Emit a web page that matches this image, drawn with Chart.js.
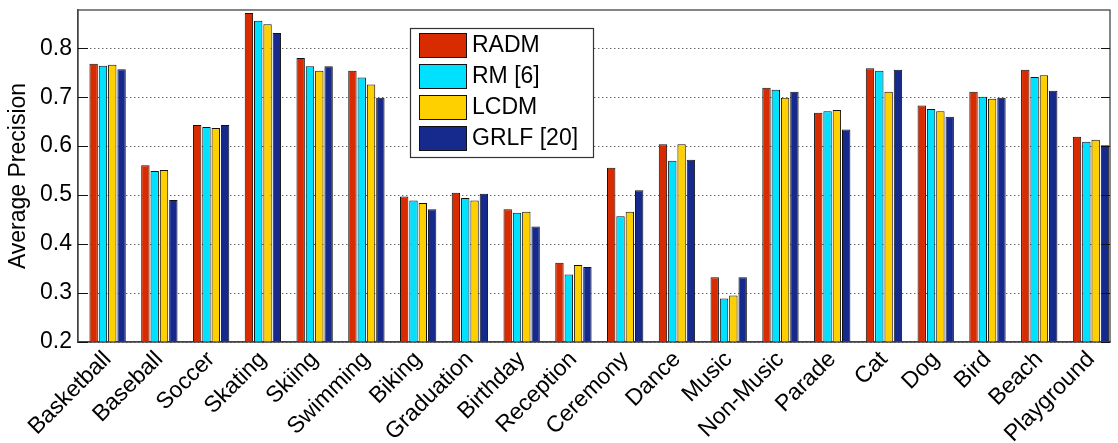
<!DOCTYPE html>
<html>
<head>
<meta charset="utf-8">
<script src="https://cdn.jsdelivr.net/npm/chart.js@4.4.1/dist/chart.umd.min.js"></script>
<style>
  html, body { margin: 0; padding: 0; background: #ffffff; }
  #wrap { width: 1118px; height: 443px; }
</style>
</head>
<body>
<div id="wrap"><canvas id="c" width="1118" height="443"></canvas></div>
<script>
const categories = ["Basketball","Baseball","Soccer","Skating","Skiing","Swimming","Biking","Graduation","Birthday","Reception","Ceremony","Dance","Music","Non-Music","Parade","Cat","Dog","Bird","Beach","Playground"];
const seriesNames = ["RADM","RM [6]","LCDM","GRLF [20]"];
const radm = [0.768,0.561,0.643,0.872,0.780,0.754,0.497,0.505,0.471,0.362,0.556,0.604,0.332,0.719,0.668,0.759,0.683,0.711,0.756,0.619];
const rm   = [0.764,0.549,0.639,0.856,0.763,0.740,0.489,0.494,0.464,0.338,0.457,0.570,0.289,0.715,0.671,0.754,0.676,0.701,0.741,0.609];
const lcdm = [0.766,0.551,0.637,0.849,0.754,0.726,0.484,0.489,0.466,0.357,0.466,0.604,0.295,0.699,0.674,0.711,0.671,0.697,0.745,0.613];
const grlf = [0.757,0.490,0.643,0.831,0.763,0.699,0.471,0.503,0.436,0.353,0.510,0.572,0.332,0.711,0.634,0.756,0.660,0.699,0.713,0.602];
const yTicks = [0.2,0.3,0.4,0.5,0.6,0.7,0.8];
const colors = ["#d92b00","#00e1ff","#ffd000","#16298c"];

const FONT = "'Liberation Sans', Arial, Helvetica, sans-serif";
const allSeries = [radm, rm, lcdm, grlf];

const datasets = allSeries.map((arr, k) => ({
  label: seriesNames[k],
  data: arr.map((v, i) => ({x: i, y: v})),
  backgroundColor: colors[k],
  borderColor: "#111111",
  borderWidth: 1,
  borderSkipped: false,
  categoryPercentage: 0.72,
  barPercentage: 0.9
}));

const framePlugin = {
  id: "frame",
  afterDraw(chart) {
    const ctx = chart.ctx;
    const a = chart.chartArea;
    const ys = chart.scales.y;
    ctx.save();
    ctx.strokeStyle = "#444444";
    ctx.lineWidth = 1.3;
    ctx.strokeRect(a.left, a.top, a.right - a.left, a.bottom - a.top);
    ctx.strokeStyle = "#111111";
    ctx.lineWidth = 1.2;
    yTicks.forEach(v => {
      const y = Math.round(ys.getPixelForValue(v)) + 0.5;
      ctx.beginPath();
      ctx.moveTo(a.left, y); ctx.lineTo(a.left + 10, y);
      ctx.moveTo(a.right, y); ctx.lineTo(a.right - 9, y);
      ctx.stroke();
    });
    const lx = a.left + 332, ly = a.top + 18, lw = 183, lh = 129;
    ctx.fillStyle = "#ffffff";
    ctx.fillRect(lx, ly, lw, lh);
    ctx.strokeStyle = "#333333";
    ctx.lineWidth = 1.2;
    ctx.strokeRect(lx + 0.5, ly + 0.5, lw, lh);
    ctx.font = "23px " + FONT;
    ctx.textBaseline = "middle";
    ctx.textAlign = "left";
    chart.data.datasets.forEach((ds, i) => {
      const sy = ly + 5 + i * 31;
      ctx.fillStyle = ds.backgroundColor;
      ctx.fillRect(lx + 9, sy, 47, 24);
      ctx.strokeStyle = "#111111";
      ctx.lineWidth = 1;
      ctx.strokeRect(lx + 9.5, sy + 0.5, 47, 24);
      ctx.fillStyle = "#000000";
      ctx.fillText(ds.label, lx + 62, sy + 13);
    });
    ctx.restore();
  }
};

new Chart(document.getElementById("c"), {
  type: "bar",
  data: { datasets },
  plugins: [framePlugin],
  options: {
    responsive: false,
    animation: false,
    devicePixelRatio: 1,
    layout: { padding: { left: 0, top: 10, right: 8, bottom: 0 } },
    plugins: { legend: { display: false }, tooltip: { enabled: false } },
    scales: {
      x: {
        type: "linear",
        min: -0.572,
        max: 19.367,
        offset: false,
        grid: { display: false, drawTicks: false },
        border: { display: true, color: "#444444", width: 1.3 },
        afterBuildTicks(scale) { scale.ticks = categories.map((c, i) => ({ value: i })); },
        afterFit(scale) { scale.height = 101; scale.paddingLeft = 0; scale.paddingRight = 0; },
        ticks: {
          autoSkip: false,
          minRotation: 45,
          maxRotation: 45,
          padding: 4,
          color: "#000000",
          font: { family: FONT, size: 23 },
          callback: (v) => categories[v]
        }
      },
      y: {
        min: 0.2,
        max: 0.878,
        afterBuildTicks(scale) { scale.ticks = yTicks.map(v => ({ value: v })); },
        afterFit(scale) { scale.width = 78; scale.paddingTop = 0; scale.paddingBottom = 0; },
        grid: { display: true, drawTicks: false, color: "#222222", lineWidth: 1 },
        border: { display: true, color: "#444444", width: 1.3, dash: [1, 3] },
        ticks: {
          padding: 6,
          color: "#000000",
          font: { family: FONT, size: 23 },
          callback: (v) => v.toFixed(1)
        },
        title: {
          display: true,
          text: "Average Precision",
          color: "#000000",
          font: { family: FONT, size: 23 },
          padding: { top: 5, bottom: 0 }
        }
      }
    }
  }
});
</script>
</body>
</html>
